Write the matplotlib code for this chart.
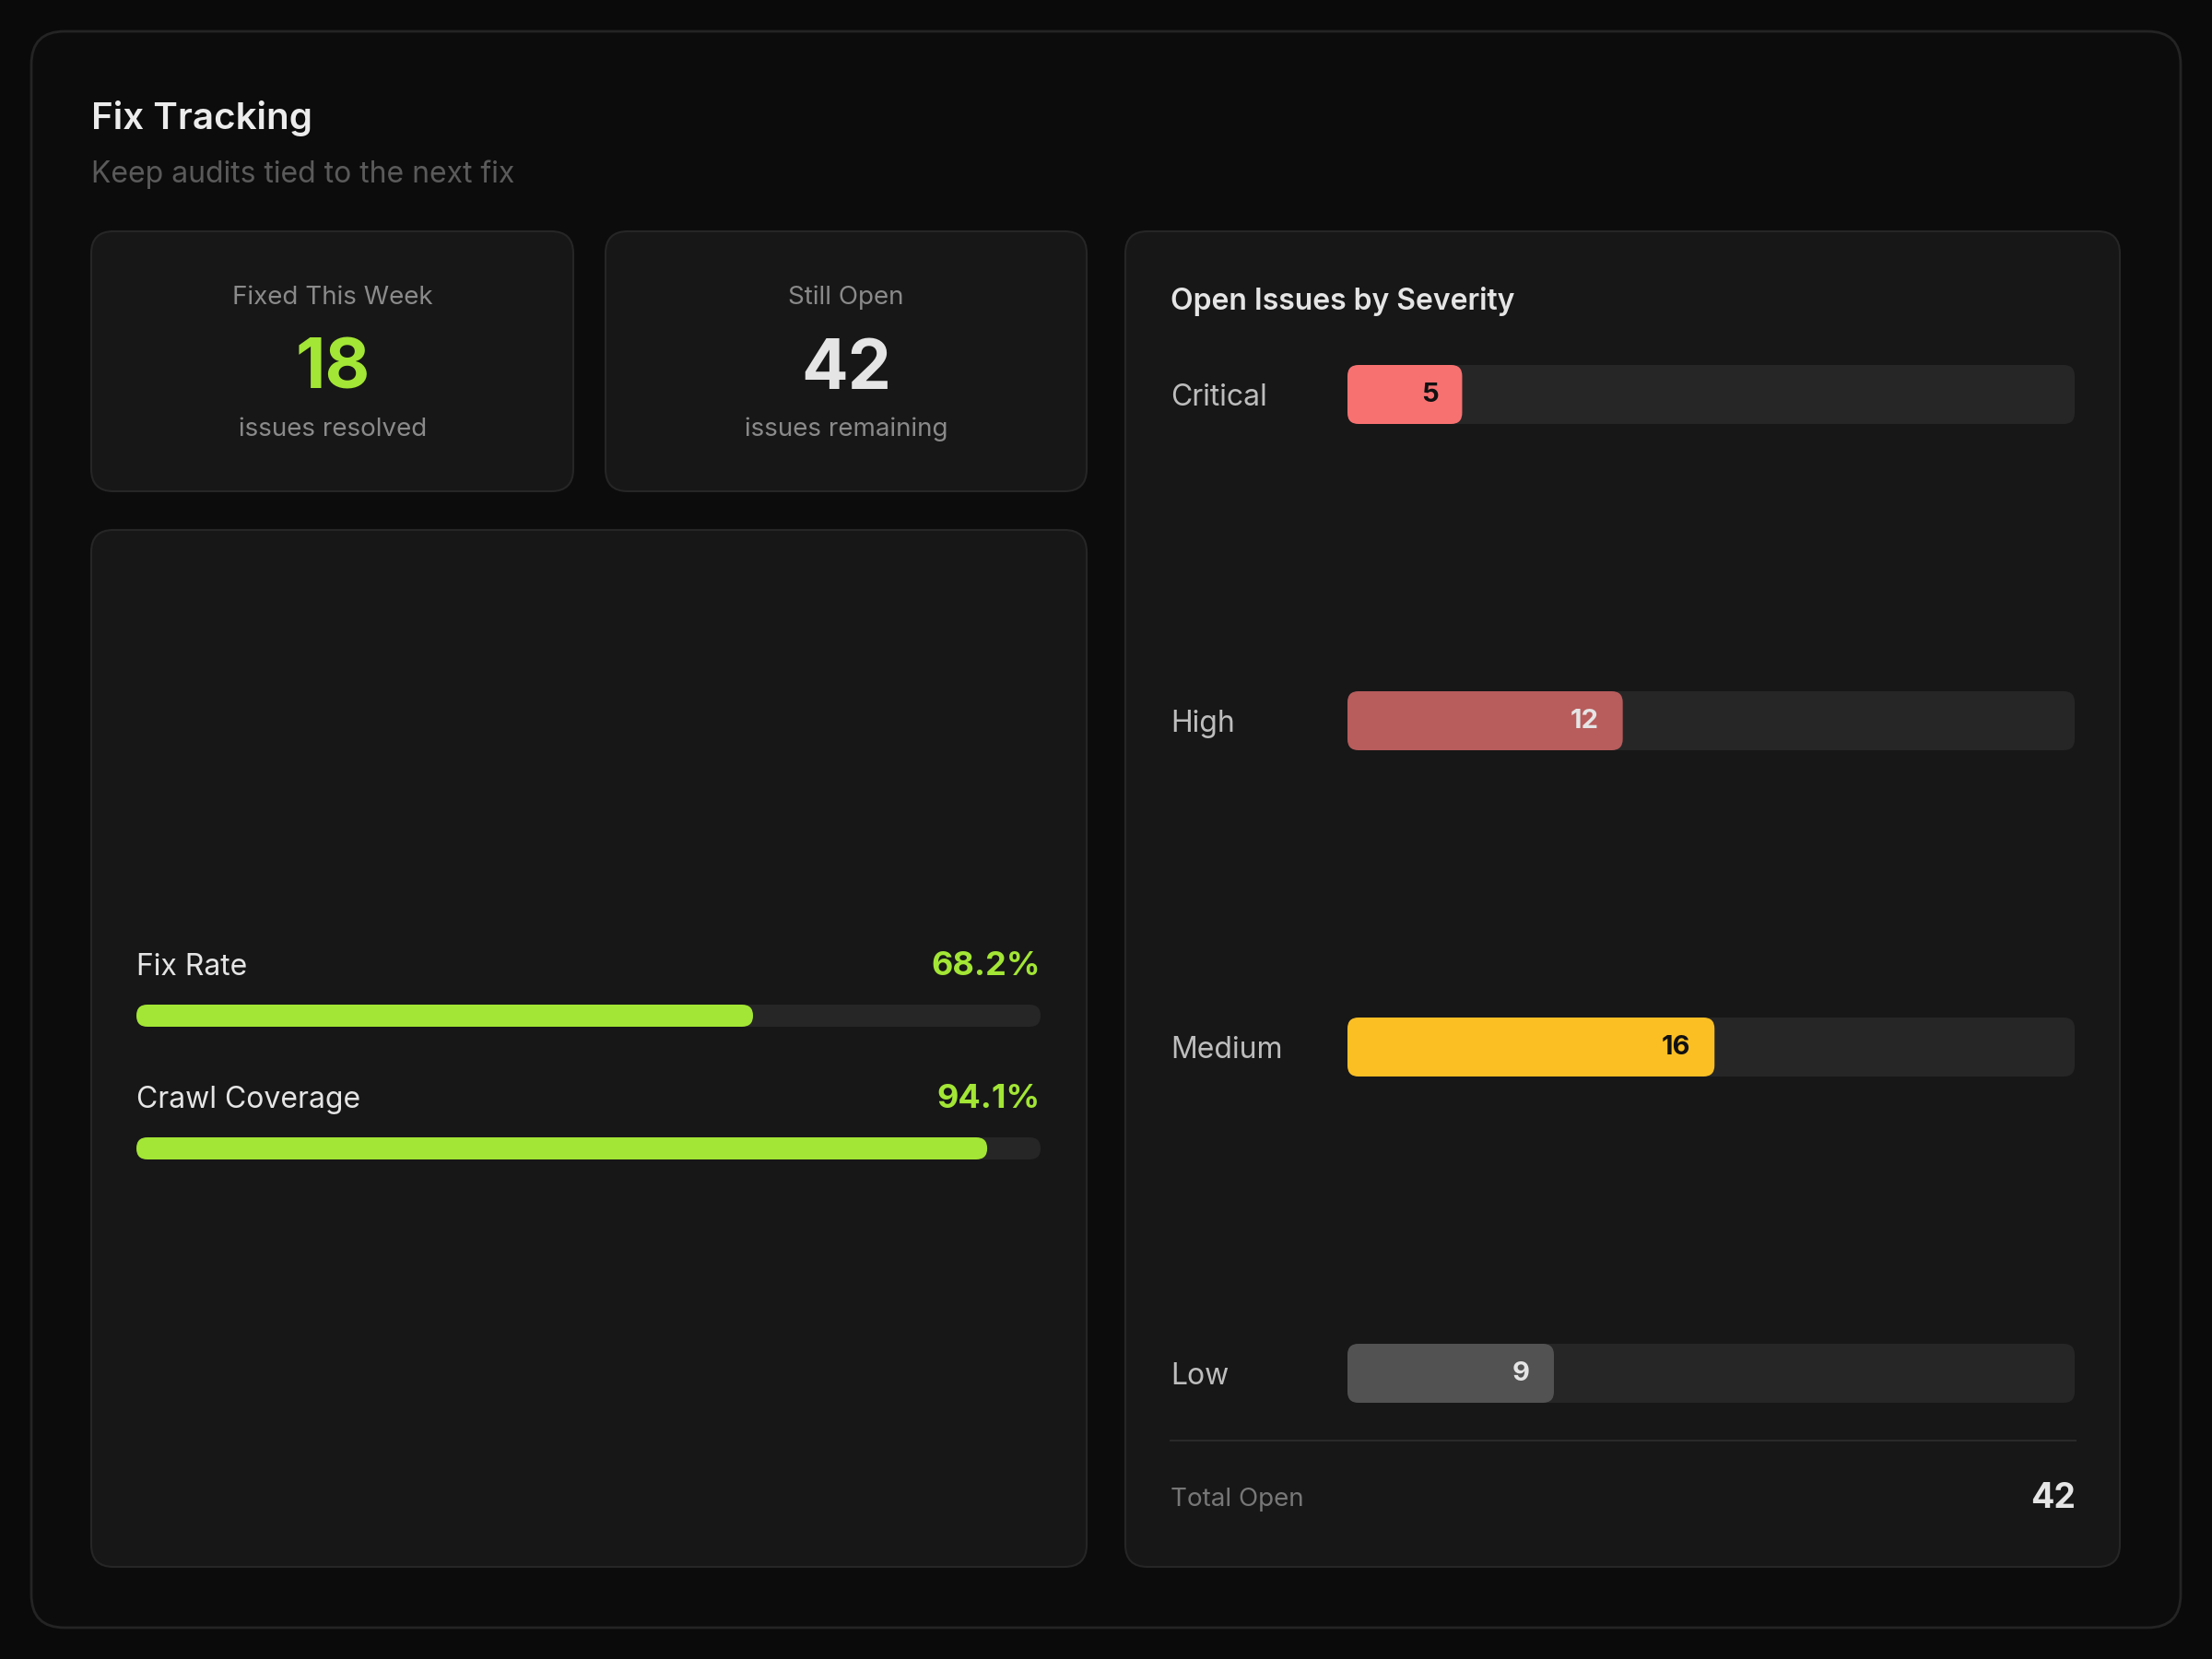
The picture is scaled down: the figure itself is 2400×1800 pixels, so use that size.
import matplotlib
matplotlib.use("Agg")
import matplotlib.pyplot as plt
from matplotlib.patches import FancyBboxPatch

plt.rcParams['font.family'] = ['Inter', 'DejaVu Sans']

# ---------------- data ----------------
title = "Fix Tracking"
subtitle = "Keep audits tied to the next fix"

kpi_labels = ["Fixed This Week", "Still Open"]
kpi_values = [18, 42]
kpi_units = ["issues resolved", "issues remaining"]

progress_labels = ["Fix Rate", "Crawl Coverage"]
progress_values = [68.2, 94.1]

severity_title = "Open Issues by Severity"
severity_labels = ["Critical", "High", "Medium", "Low"]
severity_values = [5, 12, 16, 9]
severity_max = 31.7

# ---------------- style ----------------
W, H = 2400, 1800
BG = "#0a0a0a"
CARD = "#171717"
CARD_EDGE = "#262626"
TRACK = "#262626"
LIME = "#a3e635"
TXT = "#e5e5e5"
MUTED = "#8a8a8a"
sev_colors = ["#f87171", "#b85c5c", "#fbbf24", "#525252"]
sev_text_colors = ["#111111", "#e5e5e5", "#111111", "#e5e5e5"]

fig = plt.figure(figsize=(24, 18), dpi=100, facecolor=BG)

def add_axes_px(x0, y0, x1, y1, z=1):
    ax = fig.add_axes([x0 / W, 1 - y1 / H, (x1 - x0) / W, (y1 - y0) / H])
    ax.set_zorder(z)
    ax.patch.set_alpha(0)
    ax.axis("off")
    return ax

# overlay axes in pixel coordinates
ov = add_axes_px(0, 0, W, H, z=0)
ov.set_xlim(0, W)
ov.set_ylim(H, 0)

def card(ax, x0, y0, x1, y1, fc, ec, r, lw=2):
    ax.add_patch(FancyBboxPatch((x0, y0), x1 - x0, y1 - y0,
                                boxstyle=f"round,pad=0,rounding_size={r}",
                                fc=fc, ec=ec, lw=lw))

# outer card
card(ov, 34, 34, 2366, 1766, "#0c0c0c", "#242424", 36, lw=2)
# inner cards
card(ov, 99, 251, 622, 533, CARD, CARD_EDGE, 24, lw=1.5)
card(ov, 657, 251, 1179, 533, CARD, CARD_EDGE, 24, lw=1.5)
card(ov, 99, 575, 1179, 1700, CARD, CARD_EDGE, 24, lw=1.5)
card(ov, 1221, 251, 2300, 1700, CARD, CARD_EDGE, 24, lw=1.5)

# header
ov.text(99, 140, title, fontsize=29, fontweight="semibold", color="#ececec", va="baseline")
ov.text(99, 198, subtitle, fontsize=23, color="#5a5a5a", va="baseline")

# KPI cards
kpi_centers = [361, 918]
kpi_colors = [LIME, TXT]
for cx, lab, val, unit, col in zip(kpi_centers, kpi_labels, kpi_values, kpi_units, kpi_colors):
    ov.text(cx, 330, lab, fontsize=20, color=MUTED, ha="center", va="baseline")
    ov.text(cx, 422, f"{val}", fontsize=54, fontweight="bold", color=col, ha="center", va="baseline")
    ov.text(cx, 473, unit, fontsize=20, color=MUTED, ha="center", va="baseline")

# progress bars
pax = add_axes_px(148, 1000, 1129, 1300)
pax.set_xlim(0, 100)
pax.set_ylim(1300, 1000)
px_per_x = (1129 - 148) / 100.0
bar_h = 24
prog_centers = [1102, 1246]
for lab, val, yc in zip(progress_labels, progress_values, prog_centers):
    r = bar_h / 2
    rx = r / px_per_x
    pax.add_patch(FancyBboxPatch((0, yc - bar_h / 2), 100, bar_h,
                                 boxstyle=f"round,pad=0,rounding_size={rx}",
                                 mutation_aspect=r / rx, fc=TRACK, ec="none"))
    pax.add_patch(FancyBboxPatch((0, yc - bar_h / 2), val, bar_h,
                                 boxstyle=f"round,pad=0,rounding_size={rx}",
                                 mutation_aspect=r / rx, fc=LIME, ec="none"))
    ov.text(148, yc - 44, lab, fontsize=23, color=TXT, va="baseline")
    ov.text(1129, yc - 44, f"{val:.1f}%", fontsize=26, fontweight="bold", color=LIME,
            ha="right", va="baseline")

# severity panel
ov.text(1270, 336, severity_title, fontsize=23, fontweight="semibold", color=TXT, va="baseline")
sx0, sx1 = 1462, 2251
sax = add_axes_px(sx0, 380, sx1, 1540)
sax.set_xlim(0, severity_max)
sax.set_ylim(1540, 380)
spx = (sx1 - sx0) / severity_max
sev_h = 64
sev_r = 12
rx = sev_r / spx
row_centers = [428 + i * 354 for i in range(len(severity_values))]
for lab, val, col, tcol, yc in zip(severity_labels, severity_values, sev_colors,
                                   sev_text_colors, row_centers):
    sax.add_patch(FancyBboxPatch((0, yc - sev_h / 2), severity_max, sev_h,
                                 boxstyle=f"round,pad=0,rounding_size={rx}",
                                 mutation_aspect=sev_r / rx, fc=TRACK, ec="none"))
    sax.add_patch(FancyBboxPatch((0, yc - sev_h / 2), val, sev_h,
                                 boxstyle=f"round,pad=0,rounding_size={rx}",
                                 mutation_aspect=sev_r / rx, fc=col, ec="none"))
    sax.annotate(f"{val}", xy=(val, yc), xytext=(-26, 0), textcoords="offset pixels",
                 ha="right", va="center", fontsize=21, fontweight="bold", color=tcol)
    ov.text(1270, yc + 12, lab, fontsize=23, color="#bdbdbd", va="baseline")

# divider and total
ov.plot([1270, 2252], [1563, 1563], color="#2a2a2a", lw=1.5)
ov.text(1270, 1634, "Total Open", fontsize=20, color="#777777", va="baseline")
ov.text(2252, 1636, f"{sum(severity_values)}", fontsize=27, fontweight="bold", color=TXT,
        ha="right", va="baseline")

fig.savefig("out.png", dpi=100, facecolor=BG)
